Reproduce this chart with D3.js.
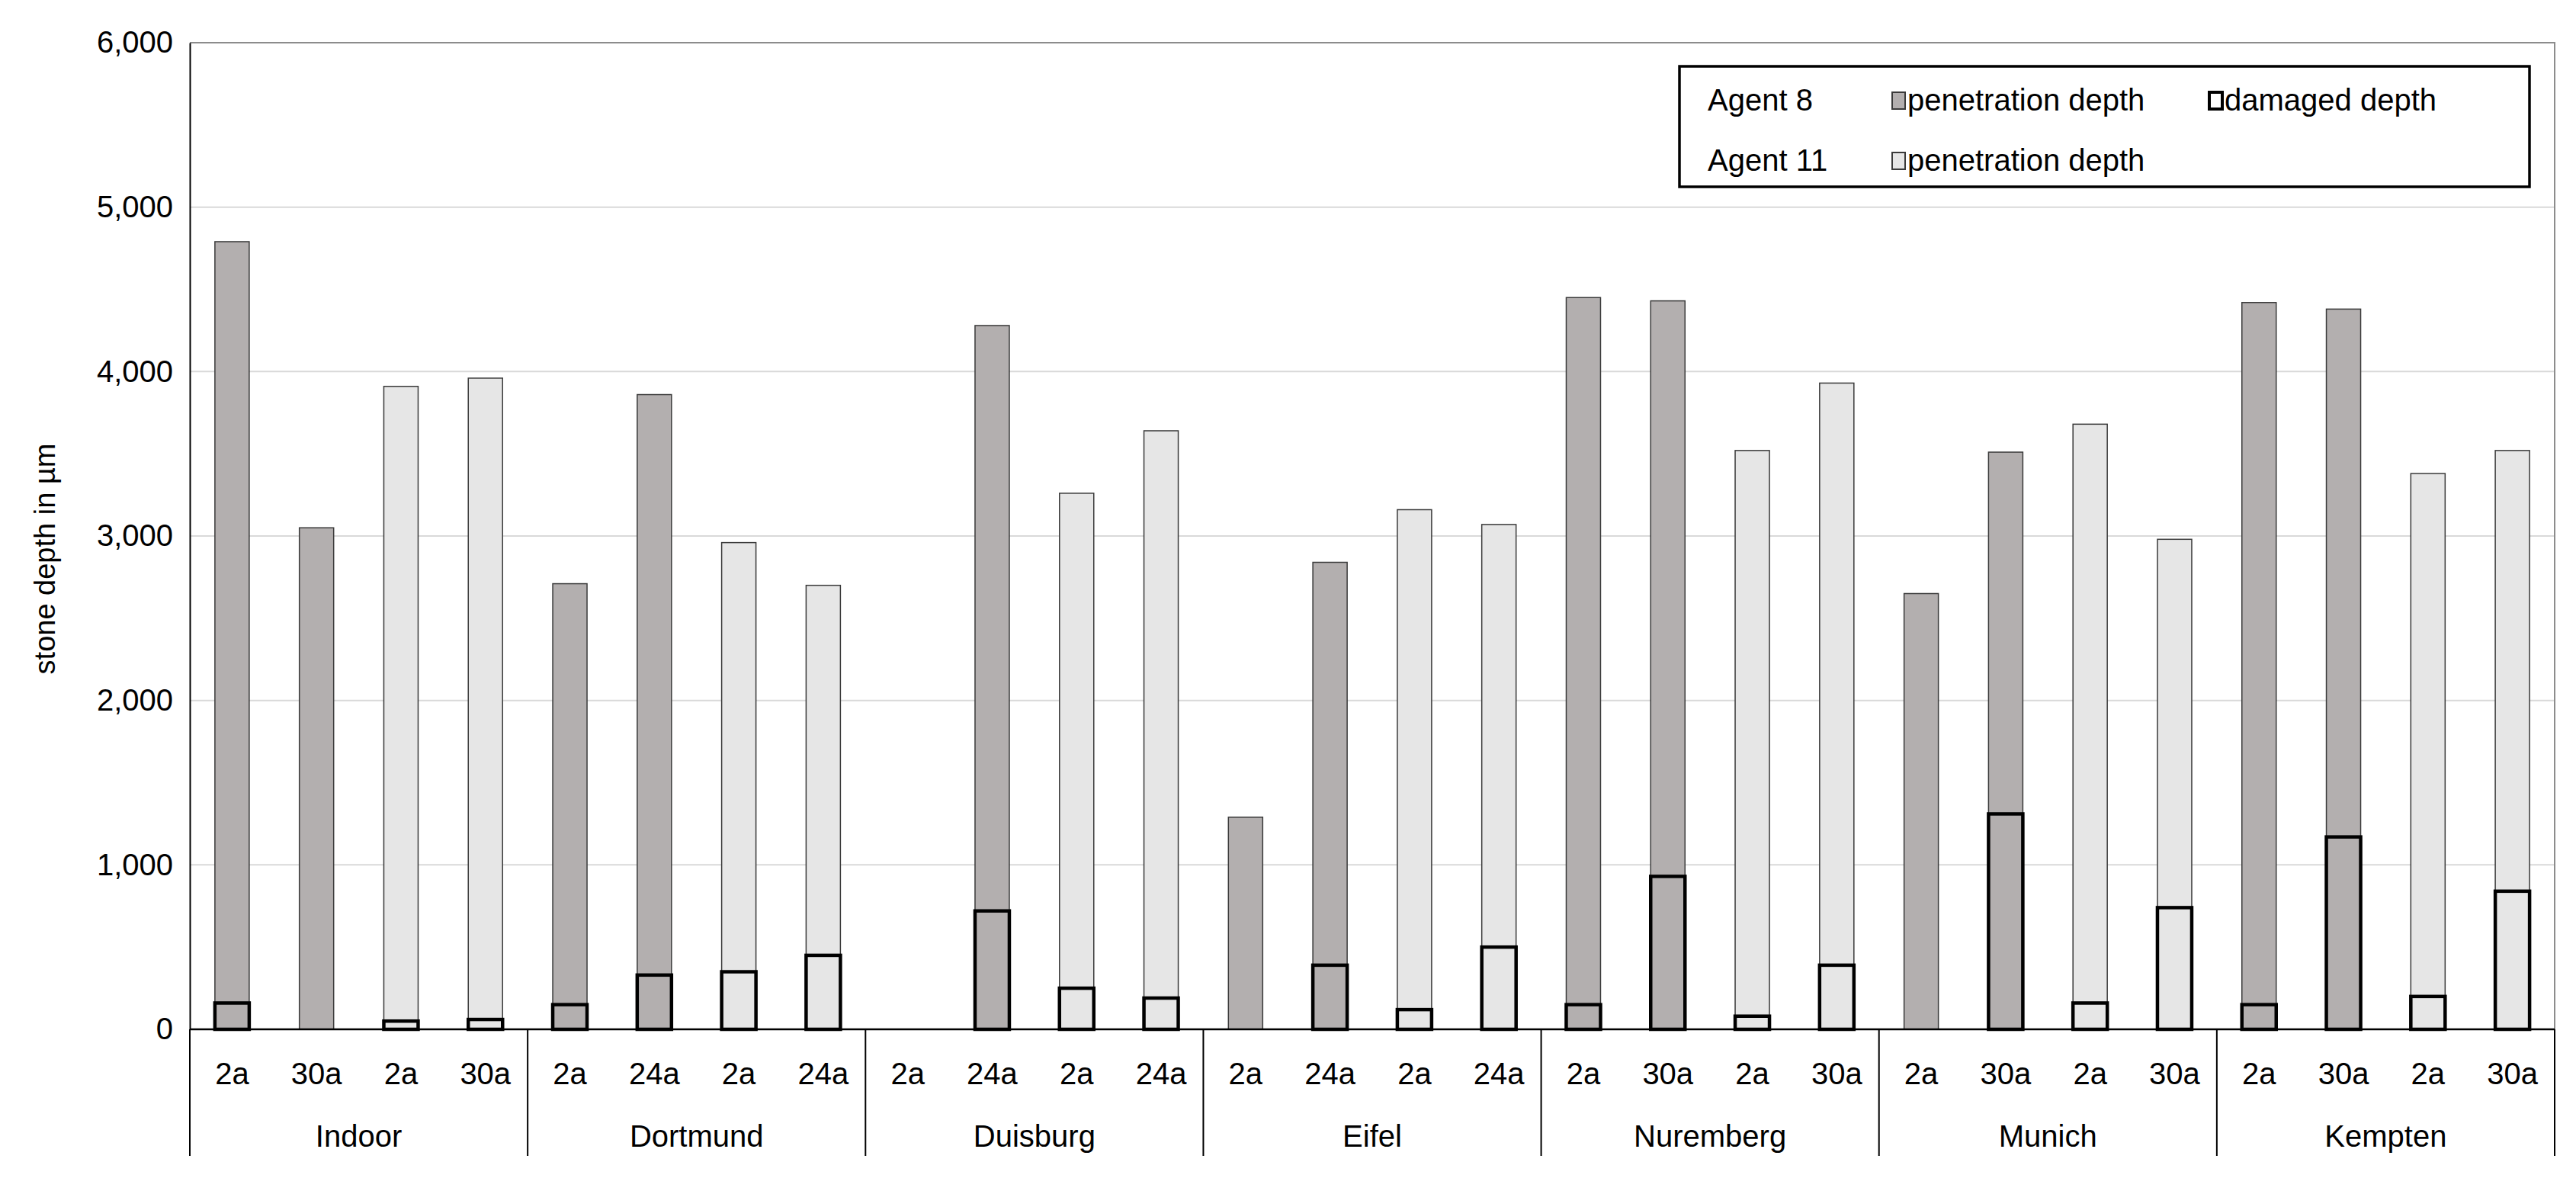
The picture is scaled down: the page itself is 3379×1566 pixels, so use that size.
<!DOCTYPE html>
<html>
<head>
<meta charset="utf-8">
<script src="https://cdn.jsdelivr.net/npm/d3@7"></script>
<style>
  body { margin: 0; background: #fff; }
  text { font-family: "Liberation Sans", Arial, sans-serif; fill: #000; }
</style>
</head>
<body>
<svg id="chart" width="3379" height="1566"></svg>
<script>
// data
const sites = ["Indoor", "Dortmund", "Duisburg", "Eifel", "Nuremberg", "Munich", "Kempten"];
const ages = [
  ["2a", "30a", "2a", "30a"],
  ["2a", "24a", "2a", "24a"],
  ["2a", "24a", "2a", "24a"],
  ["2a", "24a", "2a", "24a"],
  ["2a", "30a", "2a", "30a"],
  ["2a", "30a", "2a", "30a"],
  ["2a", "30a", "2a", "30a"]
];
// per site: [agent8 age1, agent8 age2, agent11 age1, agent11 age2]
const penetration = [
  [4790, 3050, 3910, 3960],
  [2710, 3860, 2960, 2700],
  [0, 4280, 3260, 3640],
  [1290, 2840, 3160, 3070],
  [4450, 4430, 3520, 3930],
  [2650, 3510, 3680, 2980],
  [4420, 4380, 3380, 3520]
];
const damaged = [
  [160, null, 50, 60],
  [150, 330, 350, 450],
  [null, 720, 250, 190],
  [null, 390, 120, 500],
  [150, 930, 80, 390],
  [null, 1310, 160, 740],
  [150, 1170, 200, 840]
];
const agentOfSlot = ["8", "8", "11", "11"];
const yTicks = [0, 1000, 2000, 3000, 4000, 5000, 6000];

const colA8 = "#b3afaf", colA11 = "#e6e6e6";
const plotL = 249, plotR = 3351, plotT = 56, plotB = 1350;

const svg = d3.select("#chart");

const bars = [];
sites.forEach((s, i) => {
  for (let j = 0; j < 4; j++) {
    bars.push({ key: s + "|" + j, site: s, age: ages[i][j], agent: agentOfSlot[j],
      pen: penetration[i][j], dam: damaged[i][j] });
  }
});

const x = d3.scaleBand().domain(bars.map(d => d.key)).range([plotL, plotR]);
const y = d3.scaleLinear().domain([0, 6000]).range([plotB, plotT]);
const bw = 45;

// grid
svg.append("g").selectAll("line")
  .data(yTicks.filter(t => t > 0 && t < 6000))
  .join("line")
  .attr("x1", plotL).attr("x2", plotR)
  .attr("y1", d => y(d)).attr("y2", d => y(d))
  .attr("stroke", "#d9d9d9").attr("stroke-width", 2);

// frame
svg.append("path")
  .attr("d", `M${plotL},${plotT}H${plotR}V${plotB}`)
  .attr("fill", "none").attr("stroke", "#8c8c8c").attr("stroke-width", 2);

// y axis
const yAxis = svg.append("g").attr("transform", `translate(${plotL},0)`)
  .call(d3.axisLeft(y).tickValues(yTicks).tickSize(0).tickPadding(22));
yAxis.select(".domain").attr("stroke", "#000").attr("stroke-width", 2);
yAxis.selectAll("text").style("font-size", "40px").attr("font-family", "Liberation Sans, Arial, sans-serif");

svg.append("text")
  .attr("transform", `translate(72,${(plotT + plotB) / 2 + 30}) rotate(-90)`)
  .attr("text-anchor", "middle")
  .style("font-size", "38px")
  .text("stone depth in µm");

// penetration bars
svg.append("g").selectAll("rect")
  .data(bars.filter(d => d.pen > 0))
  .join("rect")
  .attr("x", d => x(d.key) + (x.bandwidth() - bw) / 2)
  .attr("width", bw)
  .attr("y", d => y(d.pen))
  .attr("height", d => y(0) - y(d.pen))
  .attr("fill", d => d.agent === "8" ? colA8 : colA11)
  .attr("stroke", "#3a3a3a").attr("stroke-width", 1.5);

// damaged depth boxes
svg.append("g").selectAll("rect")
  .data(bars.filter(d => d.dam != null))
  .join("rect")
  .attr("x", d => x(d.key) + (x.bandwidth() - bw) / 2)
  .attr("width", bw)
  .attr("y", d => y(d.dam))
  .attr("height", d => y(0) - y(d.dam))
  .attr("fill", "none")
  .attr("stroke", "#000").attr("stroke-width", 4.5);

// x baseline
svg.append("line")
  .attr("x1", plotL).attr("x2", plotR).attr("y1", plotB).attr("y2", plotB)
  .attr("stroke", "#000").attr("stroke-width", 2.5);

// age labels
svg.append("g").selectAll("text")
  .data(bars)
  .join("text")
  .attr("x", d => x(d.key) + x.bandwidth() / 2)
  .attr("y", 1422)
  .attr("text-anchor", "middle")
  .style("font-size", "40px")
  .text(d => d.age);

// group separators and names
const groupW = x.bandwidth() * 4;
svg.append("g").selectAll("line")
  .data(d3.range(sites.length + 1))
  .join("line")
  .attr("x1", i => plotL + i * groupW).attr("x2", i => plotL + i * groupW)
  .attr("y1", plotB).attr("y2", 1516)
  .attr("stroke", "#000").attr("stroke-width", 2);

svg.append("g").selectAll("text")
  .data(sites)
  .join("text")
  .attr("x", (d, i) => plotL + (i + 0.5) * groupW)
  .attr("y", 1504)
  .attr("text-anchor", "middle")
  .style("font-size", "40px")
  .text(d => d);

// legend
const lg = svg.append("g");
lg.append("rect").attr("x", 2203).attr("y", 87).attr("width", 1115).attr("height", 158)
  .attr("fill", "#fff").attr("stroke", "#000").attr("stroke-width", 3.5);
const legendRows = [
  { label: "Agent 8", y: 131, items: [
    { fill: colA8, stroke: "#3a3a3a", sw: 2, text: "penetration depth", x: 2482 },
    { fill: "#fff", stroke: "#000", sw: 4, text: "damaged depth", x: 2898 }] },
  { label: "Agent 11", y: 210, items: [
    { fill: colA11, stroke: "#3a3a3a", sw: 2, text: "penetration depth", x: 2482 }] }
];
legendRows.forEach(r => {
  lg.append("text").attr("x", 2240).attr("y", r.y + 14).style("font-size", "40px").text(r.label);
  r.items.forEach(it => {
    lg.append("rect").attr("x", it.x).attr("y", r.y - 10).attr("width", 17).attr("height", 22)
      .attr("fill", it.fill).attr("stroke", it.stroke).attr("stroke-width", it.sw);
    lg.append("text").attr("x", it.x + 20).attr("y", r.y + 14).style("font-size", "40px").text(it.text);
  });
});
</script>
</body>
</html>
